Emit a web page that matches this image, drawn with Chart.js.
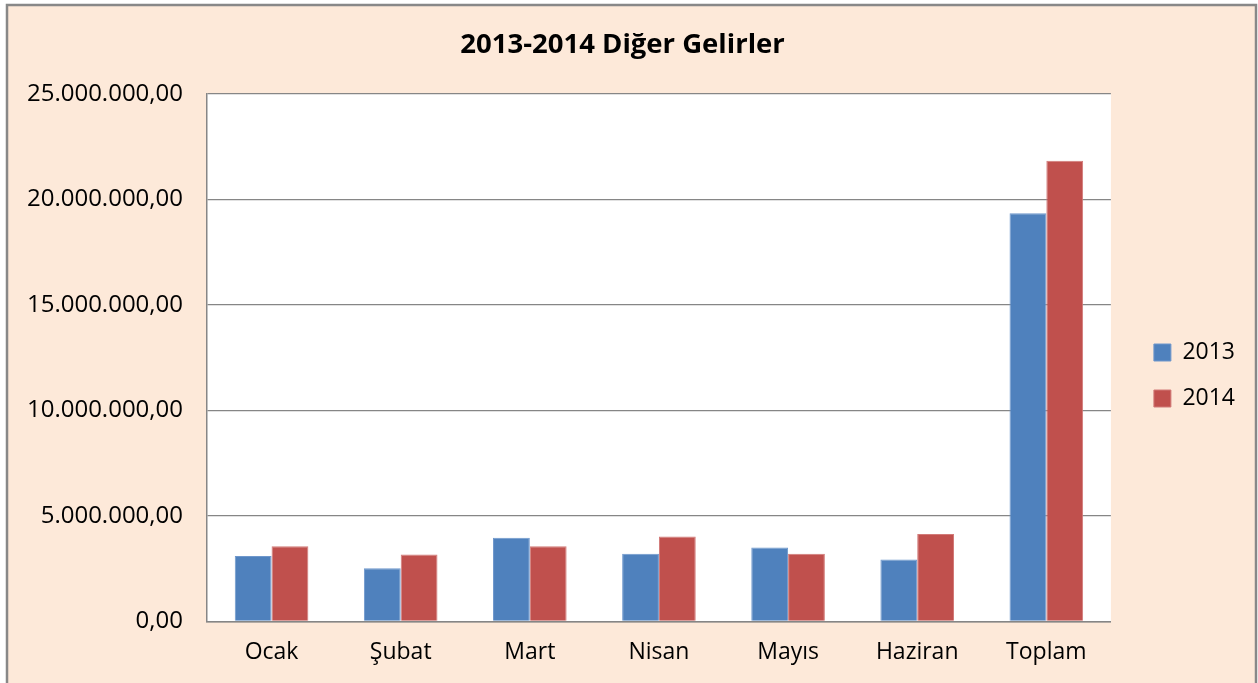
<!DOCTYPE html>
<html>
<head>
<meta charset="utf-8">
<script src="https://cdn.jsdelivr.net/npm/chart.js@4/dist/chart.umd.min.js"></script>
<style>
html,body{margin:0;padding:0;background:#ffffff;}
#wrap{width:1258px;height:683px;position:relative;}
</style>
</head>
<body>
<div id="wrap"><canvas id="c" width="1258" height="683"></canvas></div>
<script>
const categories = ["Ocak", "Şubat", "Mart", "Nisan", "Mayıs", "Haziran", "Toplam"];
const seriesNames = ["2013", "2014"];
const values2013 = [3100000, 2520000, 3970000, 3210000, 3500000, 2930000, 19350000];
const values2014 = [3560000, 3170000, 3560000, 4030000, 3210000, 4140000, 21830000];
const yTicks = [0, 5000000, 10000000, 15000000, 20000000, 25000000];

function fmt(v) {
  const s = Math.round(v).toString().replace(/\B(?=(\d{3})+(?!\d))/g, ".");
  return s + ",00";
}

const bgPlugin = {
  id: 'bg',
  beforeDraw(chart) {
    const ctx = chart.ctx;
    ctx.save();
    ctx.fillStyle = '#ffffff';
    ctx.fillRect(0, 0, chart.width, chart.height);
    ctx.fillStyle = '#FDE9D9';
    ctx.fillRect(7, 5, 1249, 690);
    ctx.strokeStyle = '#888888';
    ctx.lineWidth = 2.5;
    ctx.strokeRect(7, 5, 1249, 690);
    const a = chart.chartArea;
    ctx.fillStyle = '#ffffff';
    ctx.fillRect(a.left, a.top, a.right - a.left, a.bottom - a.top);
    ctx.restore();
  }
};

// shift the drawn legend items to their place right of the plot
const legendShift = {
  id: 'legendShift',
  start(chart) {
    const lg = chart.legend;
    if (!lg || lg._shifted) return;
    const orig = lg.draw.bind(lg);
    lg.draw = function () {
      const ctx = chart.ctx;
      ctx.save();
      ctx.translate(20, 34);
      orig();
      ctx.restore();
    };
    lg._shifted = true;
  }
};

new Chart(document.getElementById('c'), {
  type: 'bar',
  data: {
    labels: categories,
    datasets: [
      { label: seriesNames[0], data: values2013, backgroundColor: '#4F81BD', borderColor: '#6E97CC', borderWidth: 1 },
      { label: seriesNames[1], data: values2014, backgroundColor: '#C0504D', borderColor: '#D27A78', borderWidth: 1 }
    ]
  },
  options: {
    responsive: false,
    animation: false,
    devicePixelRatio: 1,
    layout: { padding: { left: 20, right: 33, top: 0, bottom: 0 } },
    datasets: { bar: { categoryPercentage: 0.57, barPercentage: 1.0 } },
    plugins: {
      title: {
        display: true,
        text: '2013-2014 Diğer Gelirler',
        color: '#000000',
        font: { family: 'Open Sans', size: 27.5, weight: 'bold' },
        padding: { top: 29, bottom: 32 }
      },
      legend: {
        position: 'right',
        align: 'center',
        labels: {
          color: '#000000',
          font: { family: 'Open Sans', size: 23 },
          boxWidth: 17,
          boxHeight: 17,
          padding: 23
        }
      },
      tooltip: { enabled: false }
    },
    scales: {
      x: {
        grid: { display: false, drawTicks: false },
        border: { display: true, color: '#868686', width: 1.5 },
        ticks: { color: '#000000', font: { family: 'Open Sans', size: 23 }, padding: 17 }
      },
      y: {
        min: 0,
        max: 25000000,
        afterBuildTicks(scale) { scale.ticks = yTicks.map(v => ({ value: v })); },
        afterFit(scale) { scale.width = 187; },
        grid: { color: '#868686', lineWidth: 1.2, drawTicks: false },
        border: { display: true, color: '#868686', width: 1.5 },
        ticks: {
          color: '#000000',
          font: { family: 'Open Sans', size: 24 },
          padding: 24,
          callback: (v) => fmt(v)
        }
      }
    }
  },
  plugins: [bgPlugin, legendShift]
});
</script>
</body>
</html>
